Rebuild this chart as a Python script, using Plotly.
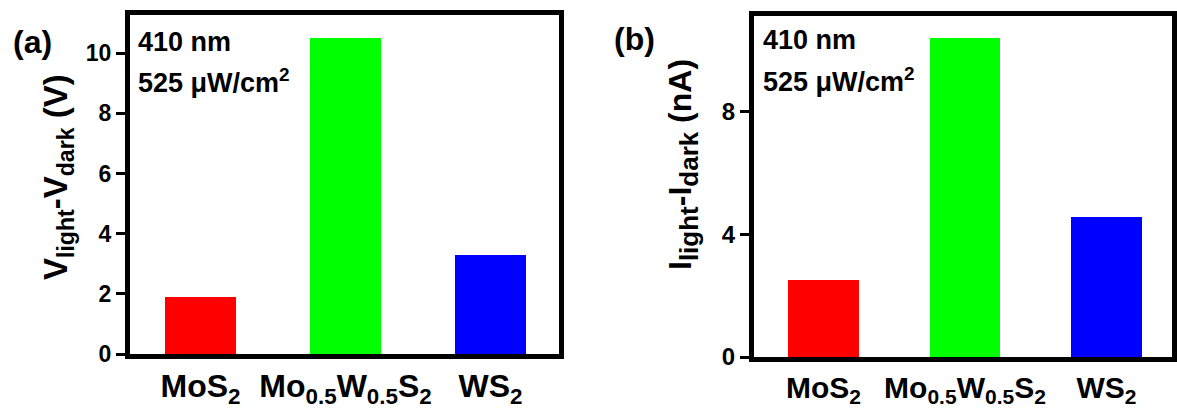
import plotly.graph_objects as go

# ---- data ----
categories = ["MoS2", "Mo0.5W0.5S2", "WS2"]
tick_labels = ["MoS<sub>2</sub>", "Mo<sub>0.5</sub>W<sub>0.5</sub>S<sub>2</sub>", "WS<sub>2</sub>"]
voltage_diff = [1.9, 10.5, 3.3]      # V_light - V_dark (V)
current_diff = [2.5, 10.4, 4.55]     # I_light - I_dark (nA)
bar_colors = ["#FF0000", "#00FF00", "#0000FF"]
yticks_a = [0, 2, 4, 6, 8, 10]
yticks_b = [0, 4, 8]

W, H = 1177, 410
FONT = "Liberation Sans, Arial, sans-serif"

def px(x):
    return x / W

def py(y):
    return 1 - y / H

fig = go.Figure()
fig.add_trace(go.Bar(x=categories, y=voltage_diff, marker=dict(color=bar_colors, line=dict(width=0)),
                     width=0.49, xaxis="x", yaxis="y", showlegend=False))
fig.add_trace(go.Bar(x=categories, y=current_diff, marker=dict(color=bar_colors, line=dict(width=0)),
                     width=0.5, xaxis="x2", yaxis="y2", showlegend=False))

axis_common = dict(showline=True, linecolor="black", linewidth=5, mirror=True,
                   showgrid=False, zeroline=False)

fig.update_layout(
    width=W, height=H,
    margin=dict(l=0, r=0, t=0, b=0),
    paper_bgcolor="white", plot_bgcolor="white",
    font=dict(family=FONT, color="black"),
    bargap=0,
    xaxis=dict(domain=[px(130), px(559)], range=[-0.486, 2.472], type="category",
               tickmode="array", tickvals=categories, ticktext=tick_labels,
               ticks="", tickfont=dict(size=32, family=FONT, weight="bold"),
               anchor="y", automargin=False, **axis_common),
    yaxis=dict(domain=[py(354), py(15)], range=[0, 11.27],
               tickmode="array", tickvals=yticks_a,
               ticks="outside", ticklen=9, tickwidth=3, tickcolor="black",
               tickfont=dict(size=23, family=FONT, weight="bold"),
               anchor="x", automargin=False, **axis_common),
    xaxis2=dict(domain=[px(754), px(1172)], range=[-0.491, 2.463], type="category",
                tickmode="array", tickvals=categories, ticktext=tick_labels,
                ticks="", tickfont=dict(size=30, family=FONT, weight="bold"),
                anchor="y2", automargin=False, **axis_common),
    yaxis2=dict(domain=[py(357), py(16)], range=[0, 11.1],
                tickmode="array", tickvals=yticks_b,
                ticks="outside", ticklen=9, tickwidth=3, tickcolor="black",
                tickfont=dict(size=24, family=FONT, weight="bold"),
                anchor="x2", automargin=False, **axis_common),
)

def ann(text, x, y, size, xanchor="center", yanchor="middle", angle=0):
    fig.add_annotation(text=text, x=px(x), y=py(y), xref="paper", yref="paper",
                       xanchor=xanchor, yanchor=yanchor, showarrow=False, textangle=angle,
                       font=dict(size=size, family=FONT, color="black", weight="bold"))

# panel labels
ann("(a)", 32, 42, 32)
ann("(b)", 634, 39, 32)

# y-axis titles
ann("V<sub>light</sub>-V<sub>dark</sub> (V)", 58, 177, 33, angle=-90)
ann("I<sub><span style='font-size:26px'>light</span></sub>-I<sub><span style='font-size:26px'>dark</span></sub> (nA)",
    683, 165, 32, angle=-90)

# condition annotations
ann("410 nm", 136, 42, 27, xanchor="left")
ann("525 μW/cm<sup>2</sup>", 136, 81, 27, xanchor="left")
ann("410 nm", 761, 40, 27, xanchor="left")
ann("525 μW/cm<sup>2</sup>", 761, 80, 27, xanchor="left")

fig.write_html("out.html", config={"displayModeBar": False},
               post_script="document.body.style.margin='0';document.body.style.padding='0';"
                           "document.documentElement.style.margin='0';")
